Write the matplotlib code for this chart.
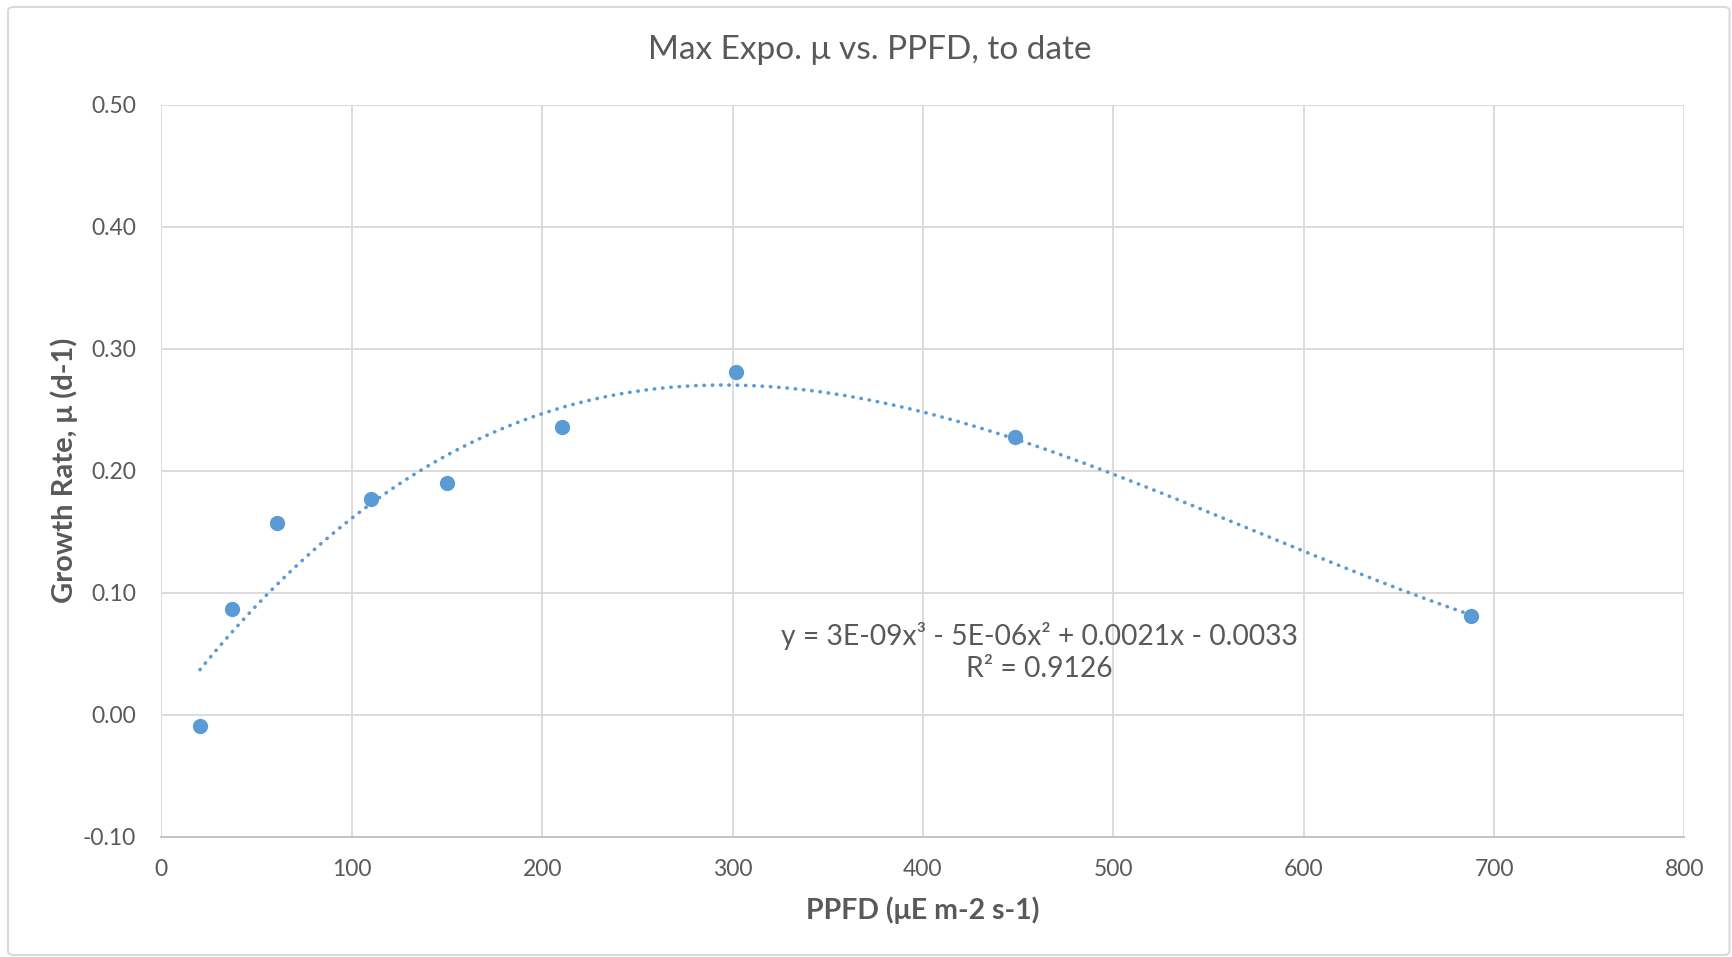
import numpy as np
import matplotlib
matplotlib.use("Agg")
import matplotlib.pyplot as plt
from matplotlib.patches import FancyBboxPatch

plt.rcParams['font.family'] = ['Lato', 'DejaVu Sans']

# Data
ppfd = [20.3, 37.2, 61.0, 110.3, 149.8, 210.7, 301.9, 448.2, 688.0]
mu = [-0.009, 0.087, 0.157, 0.177, 0.190, 0.236, 0.281, 0.228, 0.081]
x_ticks = [0, 100, 200, 300, 400, 500, 600, 700, 800]
y_ticks = [-0.10, 0.00, 0.10, 0.20, 0.30, 0.40, 0.50]
title = "Max Expo. \u03bc vs. PPFD, to date"
xlabel = "PPFD (\u03bcE m-2 s-1)"
ylabel = "Growth Rate, \u03bc (d-1)"
eq_text = "y = 3E-09x\u00b3 - 5E-06x\u00b2 + 0.0021x - 0.0033\nR\u00b2 = 0.9126"

text_col = "#595959"
grid_col = "#d9d9d9"
pt_col = "#5b9bd5"

fig = plt.figure(figsize=(17.33, 9.57), dpi=100)
# chart border
border = FancyBboxPatch((8/1733, 0.002), 1 - 8/1733 - 0.002, 1 - 5/957 - 0.004,
                        boxstyle="round,pad=0,rounding_size=0.004",
                        transform=fig.transFigure, fill=False,
                        edgecolor="#d9d9d9", linewidth=1.5)
fig.patches.append(border)

ax = fig.add_axes([0.0931, 0.1258, 0.972 - 0.0931, 0.8903 - 0.1258])
ax.set_xlim(0, 800)
ax.set_ylim(-0.10, 0.50)
ax.set_xticks(x_ticks)
ax.set_yticks(y_ticks)
ax.set_xticklabels([str(v) for v in x_ticks])
ax.set_yticklabels([f"{v:.2f}" for v in y_ticks])
ax.grid(True, color=grid_col, linewidth=1.3)
ax.set_axisbelow(True)
for s in ['top', 'right', 'left']:
    ax.spines[s].set_visible(False)
ax.spines['bottom'].set_color("#bfbfbf")
ax.spines['bottom'].set_linewidth(1.3)
ax.tick_params(axis='x', length=0, labelsize=16.5, colors=text_col, pad=16)
ax.tick_params(axis='y', length=0, labelsize=16.5, colors=text_col, pad=18)

# cubic trendline
coef = np.polyfit(ppfd, mu, 3)
xs = np.linspace(min(ppfd), max(ppfd), 400)
ax.plot(xs, np.polyval(coef, xs), color=pt_col, linewidth=2.6,
        linestyle=(0, (0.1, 2.2)), dash_capstyle='round', zorder=2)
ax.plot(ppfd, mu, 'o', color=pt_col, markersize=11, markeredgewidth=0, zorder=3)

ax.text(461, 0.0515, eq_text, ha='center', va='center', fontsize=20.3,
        color=text_col, linespacing=1.3)

fig.text(870/1733, 1 - 50/957, title, ha='center', va='center',
         fontsize=24, color=text_col)
fig.text(923/1733, 1 - 910/957, xlabel, ha='center', va='center',
         fontsize=20.5, fontweight='bold', color=text_col)
fig.text(64/1733, 1 - 470/957, ylabel, ha='center', va='center',
         fontsize=21, fontweight='bold', color=text_col, rotation=90)

fig.savefig("out.png", dpi=100)
